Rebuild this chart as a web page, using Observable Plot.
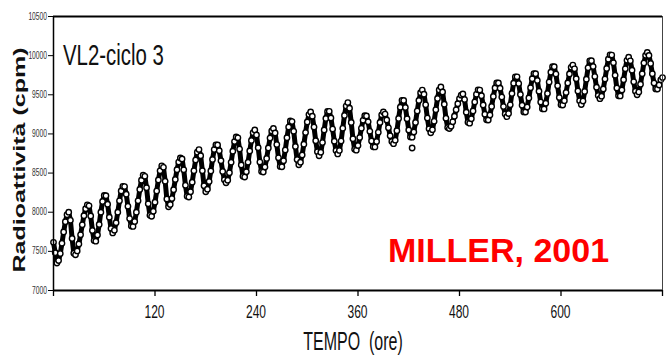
<!DOCTYPE html>
<html><head><meta charset="utf-8">
<script src="https://cdn.jsdelivr.net/npm/d3@7"></script>
<script src="https://cdn.jsdelivr.net/npm/@observablehq/plot@0.6"></script>
<style>body{margin:0;background:#fff} svg{display:block}</style>
</head><body><div id="chart"></div>
<script>
// Sampling interval of the readings (hours)
const step = 2;
// Radioactivity readings (cpm), one every 2 h from 0 to 720 h
const values = [
7615,7483,7350,7382,7472,7603,7747,7878,7968,8000,7897,7664,
7477,7456,7505,7594,7711,7839,7956,8045,8094,8082,7952,7768,
7638,7630,7708,7844,8001,8137,8215,8210,8102,7937,7792,7735,
7769,7867,8001,8146,8271,8331,8327,8231,8075,7919,7823,7818,
7882,8000,8145,8290,8408,8472,8459,8313,8107,7960,7948,8011,
8127,8270,8413,8529,8592,8574,8394,8170,8070,8097,8174,8287,
8418,8543,8640,8693,8680,8541,8344,8205,8194,8262,8384,8529,
8666,8766,8800,8721,8530,8339,8260,8294,8393,8528,8674,8800,
8861,8860,8785,8658,8521,8415,8375,8408,8505,8637,8779,8902,
8961,8950,8806,8604,8460,8449,8516,8637,8782,8917,9016,9050,
8986,8825,8641,8521,8513,8576,8687,8821,8947,9038,9070,9012,
8864,8695,8585,8580,8658,8794,8951,9087,9165,9158,9033,8840,
8672,8605,8638,8732,8868,9017,9153,9247,9280,9227,9087,8913,
8773,8720,8766,8890,9051,9198,9288,9289,9205,9062,8908,8789,
8745,8789,8909,9072,9236,9356,9400,9328,9146,8939,8803,8793,
8851,8953,9072,9174,9232,9230,9155,9033,8910,8835,8834,8903,
9020,9146,9244,9280,9253,9179,9078,8976,8902,8875,8920,9041,
9198,9341,9429,9428,9339,9195,9051,8962,8959,9026,9147,9292,
9427,9526,9560,9508,9372,9203,9067,9015,9054,9161,9308,9454,
9561,9600,9537,9379,9199,9081,9069,9098,9154,9226,9308,9386,
9451,9495,9510,9439,9278,9149,9137,9194,9293,9407,9506,9563,
9560,9488,9370,9252,9180,9178,9242,9351,9479,9588,9652,9651,
9585,9471,9349,9255,9220,9261,9372,9517,9648,9730,9729,9643,
9505,9367,9281,9279,9344,9459,9591,9706,9771,9769,9683,9545,
9407,9321,9320,9392,9517,9663,9788,9860,9858,9765,9615,9465,
9372,9368,9425,9528,9651,9767,9851,9880,9832,9706,9549,9423,
9375,9420,9542,9700,9845,9934,9935,9860,9733,9596,9490,9450,
9482,9574,9701,9837,9955,10011,10007,9908,9748,9587,9488,9485,
9561,9692,9832,9940,9980,9934,9814,9666,9546,9500,9536,9635,
9770,9905,10004,10040,10002,9901,9769,9649,9575,9573,9625,9691,
9720
];
const hours = values.map((_, i) => i * step);
// isolated low reading
const outlierHours = [424];
const outlierValues = [8820];

const xTicks = [0, 120, 240, 360, 480, 600, 720];
const xTickLabels = ["", "120", "240", "360", "480", "600", ""];
const yTicks = [7000, 7500, 8000, 8500, 9000, 9500, 10000, 10500];
const yTickLabels = ["7000", "7500", "8000", "8500", "9000", "9500", "10000", "10500"];
const titleText = "VL2-ciclo 3";
const xLabel = "TEMPO  (ore)";
const yLabel = "Radioattività (cpm)";
const sourceText = "MILLER, 2001";

const data = hours.map((h, i) => ({h, v: values[i]}));
const outliers = outlierHours.map((h, i) => ({h, v: outlierValues[i]}));

const plot = Plot.plot({
  width: 672, height: 356,
  marginLeft: 53, marginRight: 10, marginTop: 16, marginBottom: 66,
  x: {domain: [0, 720]},
  y: {domain: [7000, 10500]},
  style: {background: "#fff"},
  marks: [
    Plot.line(data, {x: "h", y: "v", stroke: "#000", strokeWidth: 5}),
    Plot.dot(data, {x: "h", y: "v", r: 2.7, stroke: "#000", strokeWidth: 1.4, fill: "#fff"}),
    Plot.dot(outliers, {x: "h", y: "v", r: 2.7, stroke: "#000", strokeWidth: 1.4, fill: "#fff"}),
    Plot.axisX({ticks: xTicks, tickFormat: () => "", tickSize: 6, strokeWidth: 1.3, label: null}),
    Plot.axisY({ticks: yTicks, tickFormat: () => "", tickSize: 5, strokeWidth: 1, label: null}),
    Plot.ruleX([720], {stroke: "#444", strokeWidth: 1}),
    Plot.ruleX([0], {stroke: "#000", strokeWidth: 1.5}),
    Plot.ruleY([10500], {stroke: "#000", strokeWidth: 2}),
    Plot.ruleY([7000], {stroke: "#000", strokeWidth: 2})
  ]
});

const sx = plot.scale("x"), sy = plot.scale("y");
const svg = d3.select(plot);
const g = svg.append("g").attr("font-family", "'Liberation Sans', Arial, sans-serif");

yTicks.forEach((t, i) => {
  g.append("text")
    .attr("transform", `translate(47,${sy.apply(t) + 3.5}) scale(0.67,1)`)
    .attr("text-anchor", "end").attr("font-size", 10).attr("fill", "#333")
    .text(yTickLabels[i]);
});
xTicks.forEach((t, i) => {
  if (!xTickLabels[i]) return;
  g.append("text")
    .attr("transform", `translate(${sx.apply(t)},318) scale(0.67,1)`)
    .attr("text-anchor", "middle").attr("font-size", 18).attr("fill", "#111")
    .text(xTickLabels[i]);
});
g.append("text")
  .attr("transform", `translate(353,350) scale(0.64,1)`)
  .attr("text-anchor", "middle").attr("font-size", 25).attr("fill", "#111")
  .style("white-space", "pre")
  .text(xLabel);
g.append("text")
  .attr("transform", `translate(25,160) scale(0.67,1) rotate(-90)`)
  .attr("text-anchor", "middle").attr("font-size", 25).attr("font-weight", "bold").attr("fill", "#111")
  .text(yLabel);
g.append("text")
  .attr("transform", `translate(63,65) scale(0.68,1)`)
  .attr("text-anchor", "start").attr("font-size", 30).attr("fill", "#111")
  .text(titleText);
g.append("text")
  .attr("x", 388).attr("y", 262).attr("text-anchor", "start")
  .attr("font-size", 34).attr("font-weight", "bold").attr("fill", "#f00")
  .text(sourceText);

document.getElementById("chart").append(plot);
</script>
</body></html>
